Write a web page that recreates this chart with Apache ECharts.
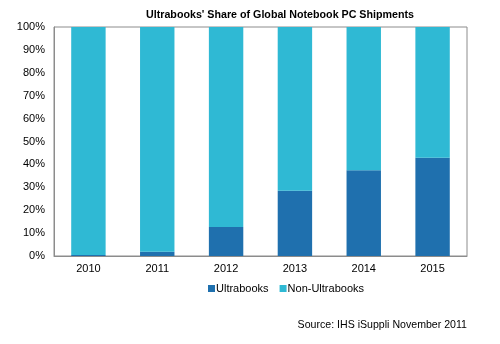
<!DOCTYPE html>
<html><head><meta charset="utf-8">
<script src="https://cdn.jsdelivr.net/npm/echarts@6/dist/echarts.min.js"></script>
<style>html,body{margin:0;padding:0;background:#fff;}#c{width:500px;height:344px;}</style>
</head><body><div id="c"></div>
<script>
const categories = ['2010','2011','2012','2013','2014','2015'];
const ultrabooks = [0.4, 1.9, 12.7, 28.5, 37.5, 42.9];
const nonUltrabooks = ultrabooks.map(v => +(100 - v).toFixed(1));
const yTicks = [0,10,20,30,40,50,60,70,80,90,100];

const F = '"Liberation Sans", Arial, sans-serif';
const chart = echarts.init(document.getElementById('c'), null, {renderer:'canvas'});
chart.setOption({
  animation:false,
  textStyle:{fontFamily:F},
  title:[{
    text:"Ultrabooks' Share of Global Notebook PC Shipments",
    left:275, top:5, textAlign:'center',
    textStyle:{fontFamily:F,fontSize:10.7,fontWeight:'bold',color:'#000'}
  },{
    text:'Source: IHS iSuppli November 2011',
    right:28, top:315,
    textStyle:{fontFamily:F,fontSize:10.6,fontWeight:'normal',color:'#000'}
  }],
  legend:{
    data:['Ultrabooks','Non-Ultrabooks'],
    left:203, top:278, itemWidth:7, itemHeight:7, itemGap:11,
    icon:'rect',
    textStyle:{fontFamily:F,fontSize:11,color:'#000',padding:[0,0,0,-4]}
  },
  grid:{left:54, right:33, top:27, bottom:88, show:true, borderColor:'#8c8c8c', borderWidth:1, backgroundColor:'transparent'},
  xAxis:{
    type:'category', data:categories,
    axisLine:{lineStyle:{color:'#8c8c8c'}},
    axisTick:{show:false},
    axisLabel:{color:'#000',fontSize:11,fontFamily:F,margin:7}
  },
  yAxis:{
    type:'value', min:0, max:100, interval:10,
    axisLine:{show:true,lineStyle:{color:'#8c8c8c'}},
    axisTick:{show:false},
    splitLine:{show:false},
    axisLabel:{color:'#000',fontSize:11,fontFamily:F,margin:9,formatter: v => (yTicks.indexOf(v)>=0 ? v+'%' : '')}
  },
  series:[{
    name:'Ultrabooks', type:'bar', stack:'s', data:ultrabooks, barWidth:'50%',
    itemStyle:{color:'#1f70ae'}
  },{
    name:'Non-Ultrabooks', type:'bar', stack:'s', data:nonUltrabooks, barWidth:'50%',
    itemStyle:{color:'#2fb9d4'}
  }]
});
</script></body></html>
